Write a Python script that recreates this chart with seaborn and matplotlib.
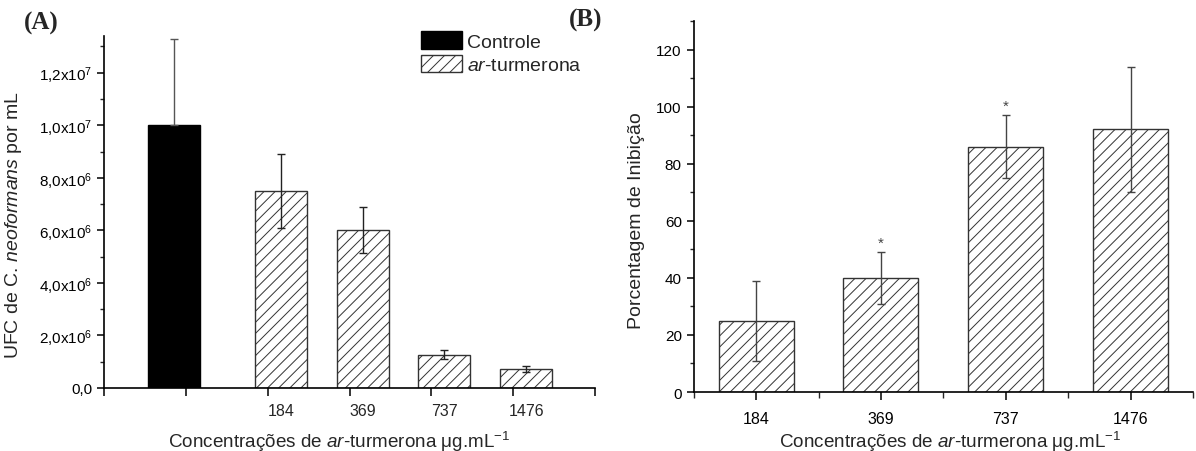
import numpy as np
import pandas as pd
import matplotlib
matplotlib.use("Agg")
import matplotlib.pyplot as plt
from matplotlib.ticker import MultipleLocator, FixedLocator, FuncFormatter
from matplotlib.patches import Patch
import seaborn as sns

# ---------------- data ----------------
groups_a = ["Controle", "184", "369", "737", "1476"]
ufc_mean = [1.0e7, 7.5e6, 6.0e6, 1.27e6, 0.72e6]
ufc_err = [3.3e6, 1.4e6, 0.88e6, 0.16e6, 0.13e6]

conc_labels = ["184", "369", "737", "1476"]
inib_mean = [25, 40, 86, 92]
inib_err = [14, 9, 11, 22]
signif = [False, True, True, False]

# ---------------- style ----------------
sns.set_style("ticks")
plt.rcParams["font.family"] = ["Liberation Sans", "DejaVu Sans"]
plt.rcParams["mathtext.fontset"] = "custom"
plt.rcParams["mathtext.rm"] = "Liberation Sans"
plt.rcParams["mathtext.it"] = "Liberation Sans:italic"
plt.rcParams["hatch.linewidth"] = 0.7

fig = plt.figure(figsize=(11.96, 4.52), dpi=100)
axA = fig.add_axes([0.087, 0.1394, 0.4105, 0.779])
axB = fig.add_axes([0.580, 0.1305, 0.4175, 0.8208])

edge = "#333333"
HATCH = "///"

def style_axis(ax):
    for s in ["top", "right"]:
        ax.spines[s].set_visible(False)
    for s in ["left", "bottom"]:
        ax.spines[s].set_linewidth(1.2)
        ax.spines[s].set_color("black")
    ax.tick_params(axis="both", which="major", direction="out", length=5, width=1.1,
                   labelsize=11, colors="black")
    ax.tick_params(axis="both", which="minor", direction="out", length=3, width=1.0)

# ---------------- panel A ----------------
pos_a = [0.855] + [2.16 + i for i in range(len(groups_a) - 1)]
kind_a = ["Controle"] + ["ar-turmerona"] * (len(groups_a) - 1)
dfA = pd.DataFrame({"pos": pos_a, "ufc": ufc_mean, "kind": kind_a})
sns.barplot(data=dfA, x="pos", y="ufc", hue="kind", native_scale=True, dodge=False,
            palette={"Controle": "black", "ar-turmerona": "white"},
            width=0.636, edgecolor=edge, linewidth=1.0, errorbar=None,
            legend=False, ax=axA)
for p in axA.patches:
    fc = p.get_facecolor()
    if fc[0] > 0.5:
        p.set_hatch(HATCH)
        p.set_edgecolor(edge)
    else:
        p.set_edgecolor("black")

axA.errorbar(pos_a[:1], ufc_mean[:1], yerr=[[0], ufc_err[:1]], fmt="none",
             ecolor="#555555", elinewidth=1.0, capsize=2.6, capthick=1.0, zorder=5)
axA.errorbar(pos_a[1:], ufc_mean[1:], yerr=ufc_err[1:], fmt="none",
             ecolor="#222222", elinewidth=1.0, capsize=2.6, capthick=1.0, zorder=5)

style_axis(axA)
axA.set_xlim(0, 6)
axA.set_ylim(0, 1.34e7)
axA.xaxis.set_major_locator(FixedLocator(range(7)))
axA.set_xticklabels([])
axA.set_xticks(pos_a[1:], conc_labels, minor=True)
axA.tick_params(axis="x", which="minor", length=0, pad=11, labelsize=11.5)
axA.tick_params(axis="x", which="major", length=6)
axA.yaxis.set_major_locator(MultipleLocator(2e6))
axA.yaxis.set_minor_locator(MultipleLocator(1e6))

def sci_fmt(v, _):
    if v <= 0:
        return "0,0" if abs(v) < 1 else ""
    e = int(np.floor(np.log10(v)))
    m = v / 10 ** e
    return ("%.1f" % m).replace(".", ",") + "x10$^{%d}$" % e

axA.yaxis.set_major_formatter(FuncFormatter(sci_fmt))
axA.set_ylabel("UFC de C. $\\mathit{neoformans}$ por mL", fontsize=14)
axA.yaxis.set_label_coords(-0.163, 0.466)
axA.set_xlabel("Concentrações de $\\mathit{ar}$-turmerona μg.mL$^{-1}$", fontsize=13.6)
axA.xaxis.set_label_coords(0.479, -0.115)

handles = [Patch(facecolor="black", edgecolor="black"),
           Patch(facecolor="white", edgecolor=edge, hatch=HATCH)]
axA.legend(handles, ["Controle", "$\\mathit{ar}$-turmerona"], loc="upper left",
           bbox_to_anchor=(0.646, 1.013), frameon=False, fontsize=14,
           handlelength=2.1, handleheight=1.0, labelspacing=0.2, handletextpad=0.25,
           borderpad=0, borderaxespad=0)

# ---------------- panel B ----------------
pos_b = [0.5 + i for i in range(len(conc_labels))]
dfB = pd.DataFrame({"pos": pos_b, "inib": inib_mean})
sns.barplot(data=dfB, x="pos", y="inib", native_scale=True, color="white",
            width=0.6, edgecolor=edge, linewidth=1.0, errorbar=None, ax=axB)
for p in axB.patches:
    p.set_facecolor("white")
    p.set_hatch(HATCH)
    p.set_edgecolor(edge)
axB.errorbar(pos_b, inib_mean, yerr=inib_err, fmt="none", ecolor="#444444",
             elinewidth=1.0, capsize=2.6, capthick=1.0, zorder=5)
for x, m, e, s in zip(pos_b, inib_mean, inib_err, signif):
    if s:
        axB.annotate("*", xy=(x, m + e), xytext=(0, 2), textcoords="offset points",
                     ha="center", va="bottom", fontsize=11, color="#444444")

style_axis(axB)
axB.set_xlim(0, 4)
axB.set_ylim(0, 130)
axB.set_xticks(pos_b, conc_labels)
axB.xaxis.set_minor_locator(FixedLocator(range(5)))
axB.tick_params(axis="x", which="major", length=6, pad=8, labelsize=11.5)
axB.tick_params(axis="x", which="minor", length=4)
axB.yaxis.set_major_locator(MultipleLocator(20))
axB.yaxis.set_minor_locator(MultipleLocator(10))
axB.set_ylabel("Porcentagem de Inibição", fontsize=14)
axB.yaxis.set_label_coords(-0.098, 0.464)
axB.set_xlabel("Concentrações de $\\mathit{ar}$-turmerona μg.mL$^{-1}$", fontsize=13.6)
axB.xaxis.set_label_coords(0.513, -0.099)

# panel letters
fig.text(0.020, 0.949, "(A)", fontsize=18, fontweight="bold", family="Liberation Serif",
         va="center", ha="left")
fig.text(0.476, 0.955, "(B)", fontsize=18, fontweight="bold", family="Liberation Serif",
         va="center", ha="left")

fig.savefig("out.png", dpi=100)
